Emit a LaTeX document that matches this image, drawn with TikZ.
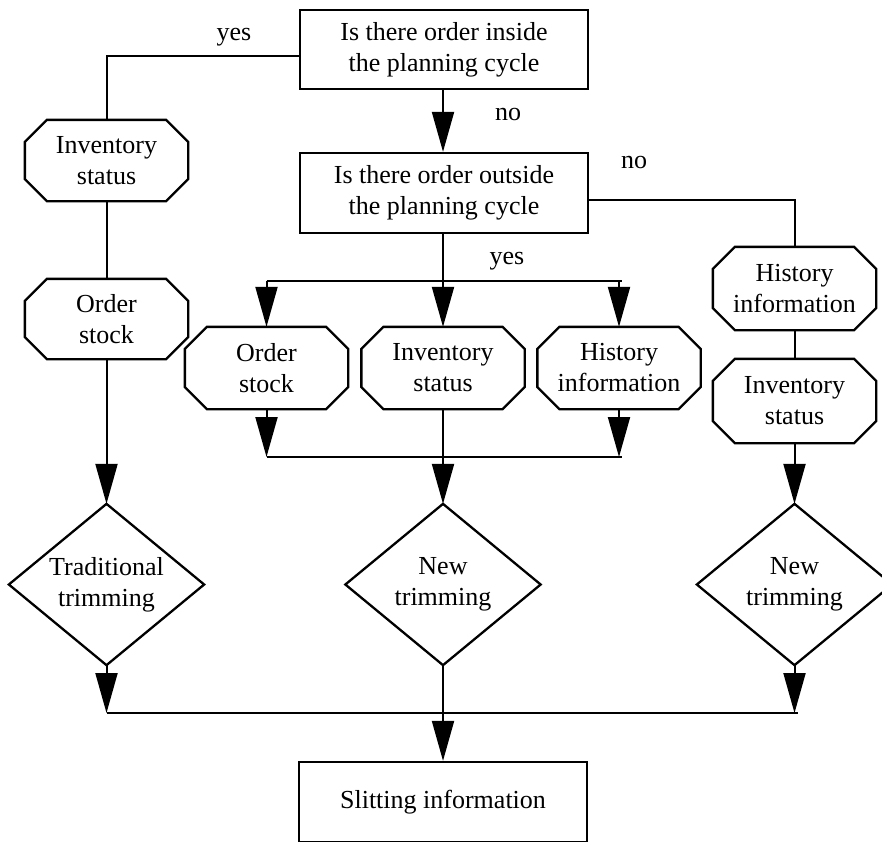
\documentclass[tikz,border=0pt]{standalone}
\usepackage{fontspec}
\setmainfont{Liberation Serif}
\usetikzlibrary{arrows.meta}
\begin{document}
\begin{tikzpicture}[x=1pt,y=1pt,
  base/.style={draw, line width=2.3pt, align=center, font=\fontsize{26}{31}\selectfont, inner sep=0pt},
  box/.style={base, rectangle, minimum width=288pt, minimum height=79pt},
  octo/.style={base, draw=none, rectangle, minimum width=161pt, minimum height=80pt,
    append after command={\pgfextra{\draw[line width=2.3pt, line join=miter]
      ([xshift=22pt]\tikzlastnode.north west) -- ([xshift=-22pt]\tikzlastnode.north east) --
      ([yshift=-22pt]\tikzlastnode.north east) -- ([yshift=22pt]\tikzlastnode.south east) --
      ([xshift=-22pt]\tikzlastnode.south east) -- ([xshift=22pt]\tikzlastnode.south west) --
      ([yshift=22pt]\tikzlastnode.south west) -- ([yshift=-22pt]\tikzlastnode.north west) -- cycle;}}},
  dia/.style={base, draw=none, rectangle, minimum width=193pt, minimum height=160pt,
    append after command={\pgfextra{\draw[line width=2.3pt, line join=miter]
      (\tikzlastnode.north) -- (\tikzlastnode.east) -- (\tikzlastnode.south) --
      (\tikzlastnode.west) -- cycle;}}},
  conn/.style={line width=2pt},
  arr/.style={conn, -{Triangle[length=40pt,width=22pt]}},
  lab/.style={font=\fontsize{26}{31}\selectfont, inner sep=0pt, anchor=base}]
\useasboundingbox (0,0) rectangle (882,-841);
\clip (0,0) rectangle (882,-841);

% nodes
\node[box] (q1) at (444,-49.5) {Is there order inside\\the planning cycle};
\node[box, minimum height=80pt] (q2) at (444,-193) {Is there order outside\\the planning cycle};
\node[octo, minimum height=79pt] (inv1) at (106.5,-160.5) {Inventory\\status};
\node[octo, minimum height=78pt] (ord1) at (106.5,-319) {Order\\stock};
\node[dia, minimum height=159pt] (dia1) at (106.5,-584.5) {Traditional\\trimming};
\node[octo] (ordm) at (266.5,-368) {Order\\stock};
\node[octo] (invm) at (443,-368) {Inventory\\status};
\node[octo] (hism) at (619,-368) {History\\information};
\node[dia, minimum height=159pt] (dia2) at (443,-584.5) {New\\trimming};
\node[octo, minimum height=81pt] (his2) at (794.5,-288.5) {History\\information};
\node[octo, minimum height=82pt] (inv2) at (794.5,-401) {Inventory\\status};
\node[dia, minimum height=159pt] (dia3) at (794.5,-584.5) {New\\trimming};
\node[box, minimum height=80pt] (slit) at (443,-802) {Slitting information};

% labels
\node[lab] (yes1) at (234,-40) {yes};
\node[lab] (no1) at (508,-120) {no};
\node[lab] (no2) at (634,-168) {no};
\node[lab] (yes2) at (507,-264) {yes};

% junction coordinates
\coordinate (ya) at (q1.west |- 0,-56);
\coordinate (na) at (q2.east |- 0,-200);
\coordinate (q1s) at (q1.south -| invm.north);
\coordinate (q2n) at (q2.north -| invm.north);
\coordinate (q2s) at (q2.south -| invm.north);
\coordinate (j1) at (invm.north |- 0,-281);
\coordinate (j1l) at (ordm.north |- 0,-281);
\coordinate (j1r) at (hism.north |- 0,-281);
\coordinate (j2l) at (ordm.south |- 0,-457);
\coordinate (j2r) at (hism.south |- 0,-457);
\coordinate (j3l) at (dia1.south |- 0,-713);
\coordinate (j3r) at (dia3.south |- 0,-713);

% connectors
\draw[conn] (ya) -| (inv1.north);
\draw[conn] (inv1.south) -- (ord1.north);
\draw[arr] (ord1.south) -- (dia1.north);
\draw[arr] (q1s) -- (q2n);
\draw[conn] (q2s) -- (j1);
\draw[conn] (j1l) -- ([xshift=3pt]j1r);
\draw[arr] (j1l) -- (ordm.north);
\draw[arr] (j1) -- (invm.north);
\draw[arr] (j1r) -- (hism.north);
\draw[arr] (ordm.south) -- (j2l);
\draw[arr] (hism.south) -- (j2r);
\draw[conn] (j2l) -- ([xshift=3pt]j2r);
\draw[arr] (invm.south) -- (dia2.north);
\draw[conn] (na) -| (his2.north);
\draw[conn] (his2.south) -- (inv2.north);
\draw[arr] (inv2.south) -- (dia3.north);
\draw[arr] (dia1.south) -- (j3l);
\draw[arr] (dia3.south) -- (j3r);
\draw[conn] (j3l) -- ([xshift=3pt]j3r);
\draw[arr] (dia2.south) -- (slit.north);
\end{tikzpicture}
\end{document}
